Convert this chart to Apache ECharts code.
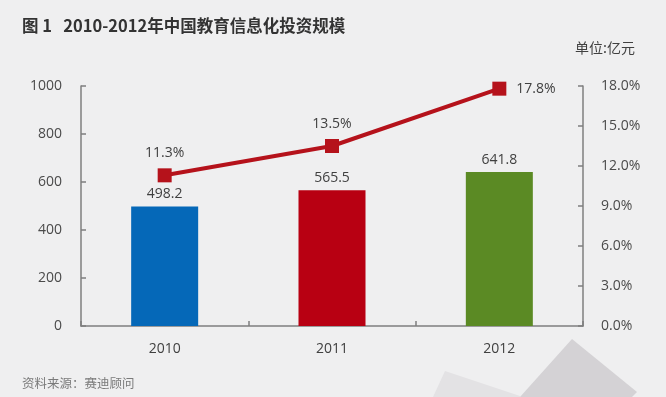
<!DOCTYPE html>
<html><head><meta charset="utf-8">
<script src="https://cdn.jsdelivr.net/npm/echarts@6/dist/echarts.min.js"></script>
<style>html,body{margin:0;padding:0;background:#efeff0;}#c{width:666px;height:397px;}</style>
</head><body><div id="c"></div>
<script>
const categories = ['2010', '2011', '2012'];
const investment = [498.2, 565.5, 641.8];
const growthRate = [11.3, 13.5, 17.8];
const barColors = ['#0568b8', '#b80012', '#5b8a24'];
const titleText = '图 1   2010-2012年中国教育信息化投资规模';
const unitText = '单位:亿元';
const sourceText = '资料来源：赛迪顾问';

const chart = echarts.init(document.getElementById('c'));
const font = '"Open Sans", "Noto Sans CJK SC", sans-serif';
const axisLine = {show: true, lineStyle: {color: '#7f7f7f', width: 1.5}};
const tick = {show: true, inside: true, length: 5, lineStyle: {color: '#7f7f7f', width: 1.5}};
const lastIdx = growthRate.length - 1;
chart.setOption({
  backgroundColor: '#efeff0',
  animation: false,
  textStyle: {fontFamily: font},
  graphic: [
    {type: 'polygon', silent: true, z: -1, shape: {points: [[445,371],[520,396],[520,397],[433,397]]}, style: {fill: '#e3e2e4'}},
    {type: 'polygon', silent: true, z: -1, shape: {points: [[572,339],[637,392],[632,397],[520,397]]}, style: {fill: '#d4d2d5'}},
    {type: 'text', left: 22, top: 17, style: {text: titleText, font: 'bold 16.5px "Noto Sans CJK SC", sans-serif', fill: '#333333'}},
    {type: 'text', left: 575, top: 41, style: {text: unitText, font: '14px "Noto Sans CJK SC", sans-serif', fill: '#404040'}},
    {type: 'text', left: 22, top: 377, style: {text: sourceText, font: '12.5px "Noto Sans CJK SC", sans-serif', fill: '#7a7a7a'}}
  ],
  grid: {left: 81, right: 83, top: 86, bottom: 71},
  xAxis: {
    type: 'category', data: categories,
    axisLine: axisLine, axisTick: tick,
    axisLabel: {color: '#404040', fontSize: 14, margin: 16, fontFamily: font}
  },
  yAxis: [
    {type: 'value', min: 0, max: 1000, interval: 200,
     axisLine: axisLine, axisTick: tick, splitLine: {show: false},
     axisLabel: {color: '#4a4a4a', fontSize: 14, margin: 19, fontFamily: font, formatter: v => String(v)}},
    {type: 'value', min: 0, max: 18, interval: 3, position: 'right',
     axisLine: axisLine, axisTick: tick, splitLine: {show: false},
     axisLabel: {color: '#4a4a4a', fontSize: 14, margin: 18, fontFamily: font,
       formatter: v => v.toFixed(1) + '%'}}
  ],
  series: [
    {type: 'bar', name: '投资规模', data: investment.map((v, i) => ({value: v, itemStyle: {color: barColors[i]}})),
     barWidth: 67,
     label: {show: true, position: 'top', distance: 5, color: '#404040', fontSize: 14, fontFamily: font,
       formatter: p => p.value.toFixed(1)}},
    {type: 'line', name: '增长率', yAxisIndex: 1,
     data: growthRate.map((v, i) => (i === lastIdx ? {value: v, label: {position: 'right', distance: 10}} : v)),
     symbol: 'rect', symbolSize: 14,
     itemStyle: {color: '#b5121b'},
     lineStyle: {color: '#b5121b', width: 4},
     label: {show: true, position: 'top', distance: 8, color: '#404040', fontSize: 14, fontFamily: font,
       formatter: p => p.value.toFixed(1) + '%'}}
  ]
});
</script>
</body></html>
